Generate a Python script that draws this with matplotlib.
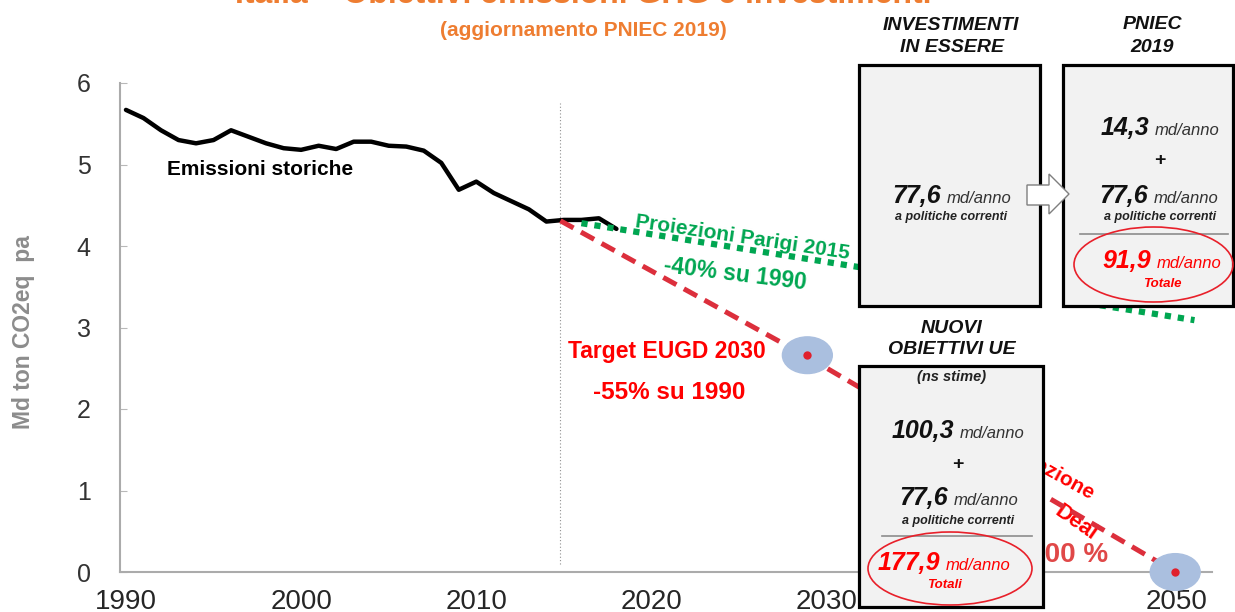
import matplotlib.pyplot as plt
from matplotlib.patches import Rectangle, Ellipse, Polygon

plt.rcParams['font.family'] = ['Liberation Sans', 'DejaVu Sans']

# emissioni storiche (Md ton CO2eq)
years = list(range(1990, 2019))
emissions = [5.67, 5.57, 5.42, 5.30, 5.26, 5.30, 5.42, 5.34, 5.26, 5.20,
             5.18, 5.23, 5.19, 5.28, 5.28, 5.23, 5.22, 5.17, 5.02, 4.69,
             4.79, 4.65, 4.55, 4.45, 4.30, 4.32, 4.32, 4.34, 4.21]

# traiettorie
eugd_years = [2014.8, 2028.9, 2049.9]
eugd_values = [4.31, 2.64, 0.0]
target_years = [2028.9, 2049.9]
target_values = [2.66, 0.0]
paris_years = [2016.0, 2051.0]
paris_values = [4.28, 3.09]
base_year = 2014.8

xtick_years = [1990, 2000, 2010, 2020, 2030, 2050]
ytick_values = [0, 1, 2, 3, 4, 5, 6]

# investimenti (md/anno)
existing = 77.6
pniec_extra = 14.3
pniec_total = 91.9
ue_extra = 100.3
ue_total = 177.9

orange = '#EE7D31'
red = '#FF0000'
green = '#00A651'


def fmt(v):
    return f'{v:.1f}'.replace('.', ',')


fig = plt.figure(figsize=(12.35, 6.12), dpi=100)
ax = fig.add_axes([120 / 1235, 40 / 612, 1092 / 1235, 489 / 612])
ov = fig.add_axes([0, 0, 1, 1], zorder=3)
ov.set_xlim(0, 1235)
ov.set_ylim(612, 0)
ov.axis('off')
ov.patch.set_alpha(0)
T = ov.transData

# --- grafico principale ---
ax.plot(years, emissions, color='black', lw=3.2, solid_joinstyle='round',
        solid_capstyle='round', zorder=3)
ax.plot(eugd_years, eugd_values, color='#DC2F3C', lw=3.6, dashes=(3, 1.7),
        zorder=4)
ax.plot(paris_years, paris_values, color=green, lw=4.5, dashes=(1, 1.1),
        dash_capstyle='butt', zorder=4)
for x, y in zip(target_years, target_values):
    ax.add_patch(Ellipse((x, y), 2.85, 0.45, color='#AABFDF', zorder=5,
                         clip_on=False))
ax.plot(target_years, target_values, 'o', color='#E0202C', ms=6, mec='none',
        zorder=6, clip_on=False)
ax.vlines(base_year, 0.1, 5.75, colors='#909090', linestyles=(0, (1, 2)),
          lw=0.8)

ax.set_xlim(1989.66, 2052)
ax.set_ylim(0, 6)
ax.set_xticks(xtick_years)
ax.set_yticks(ytick_values)
ax.tick_params(axis='y', direction='in', length=5, color='#B8B8B8',
               labelsize=18, labelcolor='#333333', pad=21)
ax.tick_params(axis='x', length=0, labelsize=20, labelcolor='#262626', pad=12)
for s in ['top', 'right']:
    ax.spines[s].set_visible(False)
for s in ['left', 'bottom']:
    ax.spines[s].set_color('#ABABAB')
    ax.spines[s].set_linewidth(1.5)

ax.text(167, 175, 'Emissioni storiche', transform=T, fontsize=15,
        fontweight='bold', ha='left', va='baseline')
ax.text(635, 227, 'Proiezioni Parigi 2015', transform=T, fontsize=15,
        fontweight='bold', color=green, rotation=-8.5, rotation_mode='anchor',
        ha='left', va='baseline')
ax.text(663, 272, '-40% su 1990', transform=T, fontsize=16.5,
        fontweight='bold', color=green, rotation=-7, rotation_mode='anchor',
        ha='left', va='baseline')
ax.text(568, 358, 'Target EUGD 2030', transform=T, fontsize=16.5,
        fontweight='bold', color=red, ha='left', va='baseline')
ax.text(593, 399, '-55% su 1990', transform=T, fontsize=17.5,
        fontweight='bold', color=red, ha='left', va='baseline')
# testo in parte coperto dal riquadro "nuovi obiettivi"
ax.text(1090, 500, 'Proiezione', transform=T, fontsize=15,
        fontweight='bold', color=red, rotation=-29, rotation_mode='anchor',
        ha='right', va='baseline')
ax.text(1038, 503, 'Green', transform=T, fontsize=16,
        fontweight='bold', color=red, rotation=-35, rotation_mode='anchor',
        ha='right', va='baseline')
ax.text(1092, 541, 'Deal', transform=T, fontsize=16,
        fontweight='bold', color=red, rotation=-35, rotation_mode='anchor',
        ha='right', va='baseline')
ax.text(1108, 562, '-100 %', transform=T, fontsize=20, fontweight='bold',
        color='#E04848', ha='right', va='baseline')

ov.text(24, 332, 'Md ton CO2eq  pa', fontsize=16.5, fontweight='bold',
        color='#8C8C8C', rotation=90, ha='center', va='center')

# --- titoli ---
ov.text(583, 3, 'Italia – Obiettivi emissioni GHG e investimenti',
        fontsize=23, fontweight='bold', color=orange, ha='center',
        va='baseline')
ov.text(583, 30, '(aggiornamento PNIEC 2019)', fontsize=15,
        fontweight='bold', color=orange, ha='center', va='center')

# --- riquadri investimenti ---
ov.add_patch(Rectangle((1040, 65), 23, 242, facecolor='white',
                       edgecolor='none', zorder=0.5))
for x0, y0, w, h in [(859, 65, 181, 241), (1063, 65, 170, 241),
                     (859, 366, 184, 241)]:
    ov.add_patch(Rectangle((x0, y0), w, h, facecolor='#F2F2F2',
                           edgecolor='black', lw=2.3, zorder=1))

hdr = dict(fontsize=14, fontweight='bold', fontstyle='italic', ha='center',
           va='baseline', color='#111111')
ov.text(951, 30, 'INVESTIMENTI', **hdr)
ov.text(952, 52, 'IN ESSERE', **hdr)
ov.text(1152, 29, 'PNIEC', **hdr)
ov.text(1152, 52, '2019', **hdr)
ov.text(952, 333, 'NUOVI', **hdr)
ov.text(952, 354, 'OBIETTIVI UE', **hdr)


def amount(xr, yb, value, color='#111111'):
    ov.text(xr, yb, fmt(value), fontsize=18, fontweight='bold',
            fontstyle='italic', color=color, ha='right', va='baseline',
            zorder=4)
    ov.text(xr + 6, yb, 'md/anno', fontsize=12, fontstyle='italic',
            color=color if color != '#111111' else '#333333', ha='left',
            va='baseline', zorder=4)


small = dict(fontsize=9, fontweight='bold', fontstyle='italic', ha='center',
             va='baseline', color='#222222', zorder=4)
plus = dict(fontsize=14, fontweight='bold', ha='center', va='center',
            color='#111111', zorder=4)

# box 1
amount(941, 203, existing)
ov.text(951, 220, 'a politiche correnti', **small)

# freccia
ov.add_patch(Polygon([(1027, 185), (1049, 185), (1049, 174), (1069, 194),
                      (1049, 214), (1049, 205), (1027, 205)], closed=True,
                     facecolor='white', edgecolor='#7F7F7F', lw=1, zorder=3))

# box 2
amount(1149, 135, pniec_extra)
ov.text(1160, 160, '+', **plus)
amount(1148, 203, existing)
ov.text(1160, 220, 'a politiche correnti', **small)
ov.plot([1080, 1228], [234, 234], color='#8C8C8C', lw=1.2, zorder=3)
amount(1151, 268, pniec_total, red)
ov.text(1162, 287, 'Totale', fontsize=9.5, fontstyle='italic',
        fontweight='bold', color=red, ha='center', va='baseline', zorder=4)
ov.add_patch(Ellipse((1153.5, 264.5), 159, 75, fill=False, edgecolor='#E8202A',
                     lw=1.2, zorder=4))

# box 3
ov.text(952, 377, '(ns stime)', fontsize=10.5, fontweight='bold',
        fontstyle='italic', color='#222222', ha='center', va='center',
        zorder=4)
amount(954, 438, ue_extra)
ov.text(958, 464, '+', **plus)
amount(948, 505, existing)
ov.text(958, 524, 'a politiche correnti', **small)
ov.plot([882, 1032], [536, 536], color='#8C8C8C', lw=1.2, zorder=3)
amount(940, 570, ue_total, red)
ov.text(944, 588, 'Totali', fontsize=9.5, fontstyle='italic',
        fontweight='bold', color=red, ha='center', va='baseline', zorder=4)
ov.add_patch(Ellipse((950, 568.5), 164, 73, fill=False, edgecolor='#E8202A',
                     lw=1.2, zorder=4))

fig.savefig('out.png', dpi=100)
